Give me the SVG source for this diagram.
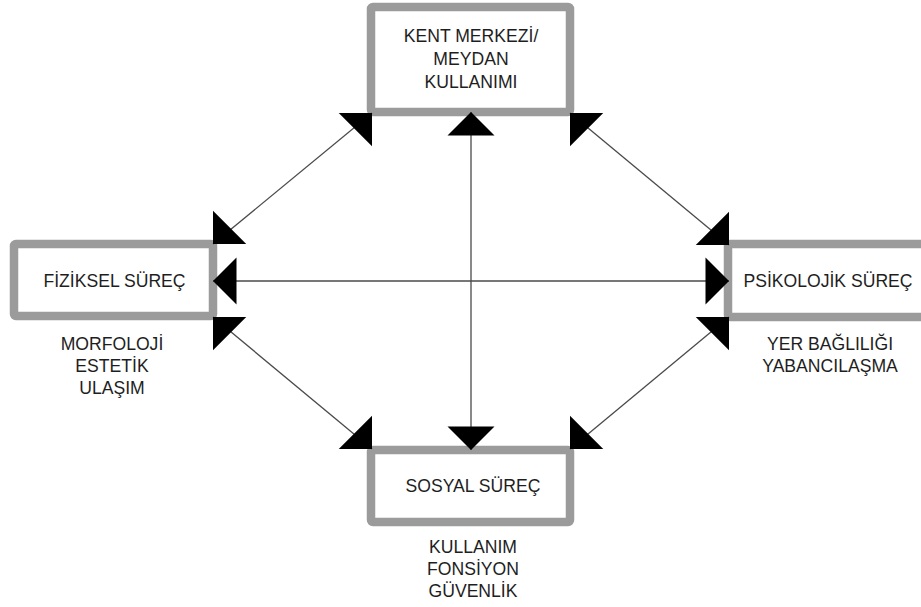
<svg xmlns="http://www.w3.org/2000/svg" width="921" height="607" viewBox="0 0 921 607">
<style>
.box{fill:#fff;stroke:#9b9b9b;stroke-width:8.5}
.t{font-family:"Liberation Sans",Arial,sans-serif;font-size:17.6px;fill:#1e1e1e;text-anchor:middle}
.c{stroke:#4a4a4a;stroke-width:1.3;fill:none}
</style>
<defs>
<marker id="a" markerUnits="userSpaceOnUse" viewBox="-24 -24 25 48" refX="0" refY="0" markerWidth="25" markerHeight="48" orient="auto-start-reverse" overflow="visible"><path d="M0,0 L-23.5,-23.5 L-23.5,23.5 Z" fill="#000"/></marker>
<marker id="ur" markerUnits="userSpaceOnUse" viewBox="-24 -24 25 48" refX="0" refY="0" markerWidth="25" markerHeight="48" orient="-45" overflow="visible"><path d="M0,0 L-23.5,-23.5 L-23.5,23.5 Z" fill="#000"/></marker>
<marker id="dl" markerUnits="userSpaceOnUse" viewBox="-24 -24 25 48" refX="0" refY="0" markerWidth="25" markerHeight="48" orient="135" overflow="visible"><path d="M0,0 L-23.5,-23.5 L-23.5,23.5 Z" fill="#000"/></marker>
<marker id="dr" markerUnits="userSpaceOnUse" viewBox="-24 -24 25 48" refX="0" refY="0" markerWidth="25" markerHeight="48" orient="45" overflow="visible"><path d="M0,0 L-23.5,-23.5 L-23.5,23.5 Z" fill="#000"/></marker>
<marker id="ul" markerUnits="userSpaceOnUse" viewBox="-24 -24 25 48" refX="0" refY="0" markerWidth="25" markerHeight="48" orient="225" overflow="visible"><path d="M0,0 L-23.5,-23.5 L-23.5,23.5 Z" fill="#000"/></marker>
</defs>
<rect width="921" height="607" fill="#fff"/>
<g id="kent">
<rect class="box" x="371" y="7" width="199" height="105" rx="2"/>
<text class="t" x="471" y="42">KENT MERKEZİ/</text>
<text class="t" x="471" y="65">MEYDAN</text>
<text class="t" x="471" y="88">KULLANIMI</text>
</g>
<g id="fiziksel">
<rect class="box" x="14" y="244" width="199" height="72" rx="2"/>
<text class="t" x="114.5" y="287">FİZİKSEL SÜREÇ</text>
<text class="t" x="112" y="350">MORFOLOJİ</text>
<text class="t" x="112" y="372">ESTETİK</text>
<text class="t" x="112" y="394">ULAŞIM</text>
</g>
<g id="psikolojik">
<rect class="box" x="728" y="244" width="205" height="73" rx="2"/>
<text class="t" x="828" y="287">PSİKOLOJİK SÜREÇ</text>
<text class="t" x="830" y="350">YER BAĞLILIĞI</text>
<text class="t" x="830" y="372">YABANCILAŞMA</text>
</g>
<g id="sosyal">
<rect class="box" x="371" y="450" width="199" height="72" rx="2"/>
<text class="t" x="473" y="492">SOSYAL SÜREÇ</text>
<text class="t" x="473" y="553">KULLANIM</text>
<text class="t" x="473" y="575">FONSİYON</text>
<text class="t" x="473" y="597">GÜVENLİK</text>
</g>
<g id="connectors">
<line class="c" x1="213" y1="244" x2="372" y2="113" marker-start="url(#dl)" marker-end="url(#ur)"/>
<line class="c" x1="570" y1="113" x2="729" y2="245" marker-start="url(#ul)" marker-end="url(#dr)"/>
<line class="c" x1="213" y1="317" x2="372" y2="449" marker-start="url(#ul)" marker-end="url(#dr)"/>
<line class="c" x1="729" y1="317" x2="570" y2="449" marker-start="url(#ur)" marker-end="url(#dl)"/>
<line class="c" x1="213" y1="281" x2="729" y2="281" marker-start="url(#a)" marker-end="url(#a)"/>
<line class="c" x1="471" y1="112" x2="471" y2="450" marker-start="url(#a)" marker-end="url(#a)"/>
</g>
</svg>
